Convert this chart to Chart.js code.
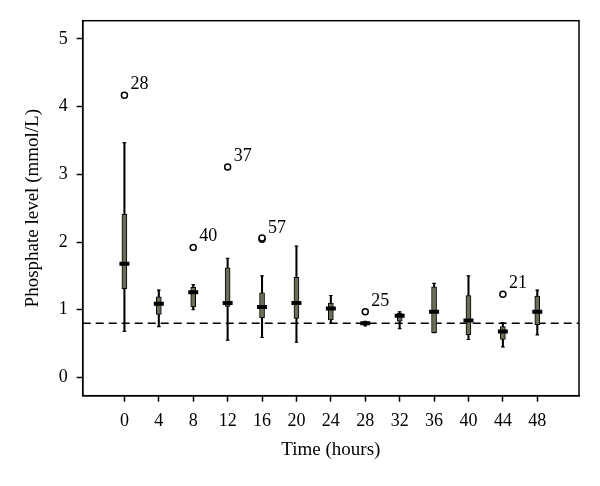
<!DOCTYPE html>
<html>
<head>
<meta charset="utf-8">
<script src="https://cdn.jsdelivr.net/npm/chart.js@4/dist/chart.umd.min.js"></script>
<style>
html,body{margin:0;padding:0;background:#fff;}
#wrap{width:600px;height:486px;}
</style>
</head>
<body>
<div id="wrap"><canvas id="c" width="600" height="486"></canvas></div>
<script>
// ---- data ----
const hours       = [0, 4, 8, 12, 16, 20, 24, 28, 32, 36, 40, 44, 48];
const whiskerLow  = [0.68, 0.75, 1.00, 0.55, 0.59, 0.52, 0.80, 0.76, 0.72, 0.66, 0.56, 0.45, 0.63];
const q1          = [1.31, 0.93, 1.04, 1.05, 0.88, 0.87, 0.85, 0.78, 0.83, 0.66, 0.63, 0.56, 0.78];
const median      = [1.68, 1.09, 1.26, 1.10, 1.04, 1.10, 1.02, 0.80, 0.91, 0.97, 0.84, 0.68, 0.97];
const q3          = [2.41, 1.19, 1.33, 1.62, 1.25, 1.48, 1.10, 0.82, 0.95, 1.34, 1.21, 0.75, 1.20];
const whiskerHigh = [3.47, 1.29, 1.37, 1.76, 1.50, 1.94, 1.21, 0.83, 0.97, 1.39, 1.50, 0.81, 1.29];

const outlierHours  = [0, 8, 12, 16, 16, 28, 44];
const outlierValues = [4.17, 1.92, 3.11, 2.04, 2.06, 0.97, 1.23];
const outlierLabels = ['28', '40', '37', '57', '', '25', '21'];

const yTicks = [0, 1, 2, 3, 4, 5];
const referenceLevel = 0.8;

const xTitle = 'Time (hours)';
const yTitle = 'Phosphate level (mmol/L)';

// ---- build datasets ----
const pts = (arr) => hours.map((h, i) => ({x: h, y: arr[i]}));
const ranges = (lo, hi) => hours.map((h, i) => ({x: h, y: [lo[i], hi[i]]}));

const FONT = "'Liberation Serif', 'DejaVu Serif', serif";

const framePlugin = {
  id: 'frame',
  beforeDatasetsDraw(chart) {
    const {ctx, chartArea: a, scales: {y}} = chart;
    const py = y.getPixelForValue(referenceLevel);
    ctx.save();
    ctx.strokeStyle = '#000';
    ctx.lineWidth = 1.3;
    ctx.setLineDash([8, 5]);
    ctx.beginPath();
    ctx.moveTo(a.left, py);
    ctx.lineTo(a.right, py);
    ctx.stroke();
    ctx.restore();
  },
  afterDatasetsDraw(chart) {
    const {ctx, chartArea: a, scales: {x, y}} = chart;
    ctx.save();
    ctx.fillStyle = '#000';
    ctx.font = "18px " + FONT;
    ctx.textAlign = 'left';
    ctx.textBaseline = 'alphabetic';
    outlierHours.forEach((h, i) => {
      if (!outlierLabels[i]) return;
      ctx.fillText(outlierLabels[i], x.getPixelForValue(h) + 6, y.getPixelForValue(outlierValues[i]) - 6);
    });
    ctx.strokeStyle = '#000';
    ctx.lineWidth = 1.5;
    ctx.strokeRect(a.left, a.top, a.right - a.left, a.bottom - a.top);
    ctx.restore();
  }
};

new Chart(document.getElementById('c'), {
  type: 'bar',
  data: {
    datasets: [
      { type: 'bar', data: ranges(whiskerLow, whiskerHigh), backgroundColor: '#000', borderWidth: 0,
        barThickness: 1.4, grouped: false, order: 6 },
      { type: 'bar', data: ranges(q1, q3), backgroundColor: '#6e6e58', borderColor: '#000', borderWidth: 1,
        borderSkipped: false, barThickness: 5, grouped: false, order: 5 },
      { type: 'scatter', data: pts(whiskerLow), pointStyle: 'line', pointRadius: 1.8, borderColor: '#000',
        borderWidth: 1.2, order: 4 },
      { type: 'scatter', data: pts(whiskerHigh), pointStyle: 'line', pointRadius: 1.8, borderColor: '#000',
        borderWidth: 1.2, order: 4 },
      { type: 'scatter', data: pts(median), pointStyle: 'line', pointRadius: 5, borderColor: '#000',
        borderWidth: 4, order: 3 },
      { type: 'scatter', data: outlierHours.map((h, i) => ({x: h, y: outlierValues[i]})), pointStyle: 'circle',
        pointRadius: 3, backgroundColor: '#fff', borderColor: '#000', borderWidth: 1.5, order: 1 }
    ]
  },
  options: {
    responsive: false,
    animation: false,
    events: [],
    layout: { padding: { top: 20.7, right: 21, left: 0, bottom: 0 } },
    plugins: { legend: { display: false }, tooltip: { enabled: false } },
    scales: {
      x: {
        type: 'linear', min: -4.85, max: 52.85, offset: false,
        afterBuildTicks: (s) => { s.ticks = hours.map(v => ({value: v})); },
        afterFit: (s) => { s.height = 90.3; },
        grid: { offset: false, drawOnChartArea: false, drawTicks: true, tickLength: 6, tickColor: '#000', tickWidth: 1.5 },
        border: { display: true, color: '#000', width: 1.5 },
        ticks: { color: '#000', font: { family: FONT, size: 18 }, padding: 9, maxRotation: 0, autoSkip: false,
                 callback: (v) => String(v) },
        title: { display: true, text: xTitle, color: '#000', font: { family: FONT, size: 19 },
                 padding: { top: 0, bottom: 25 } }
      },
      y: {
        type: 'linear', min: -0.27, max: 5.27,
        afterBuildTicks: (s) => { s.ticks = yTicks.map(v => ({value: v})); },
        afterFit: (s) => { s.width = 82.7; },
        grid: { offset: false, drawOnChartArea: false, drawTicks: true, tickLength: 6, tickColor: '#000', tickWidth: 1.5 },
        border: { display: true, color: '#000', width: 1.5 },
        ticks: { color: '#000', font: { family: FONT, size: 18 }, padding: 9,
                 callback: (v) => String(v) },
        title: { display: true, text: yTitle, color: '#000', font: { family: FONT, size: 19 },
                 padding: { top: 22, bottom: 0 } }
      }
    }
  },
  plugins: [framePlugin]
});
</script>
</body>
</html>
